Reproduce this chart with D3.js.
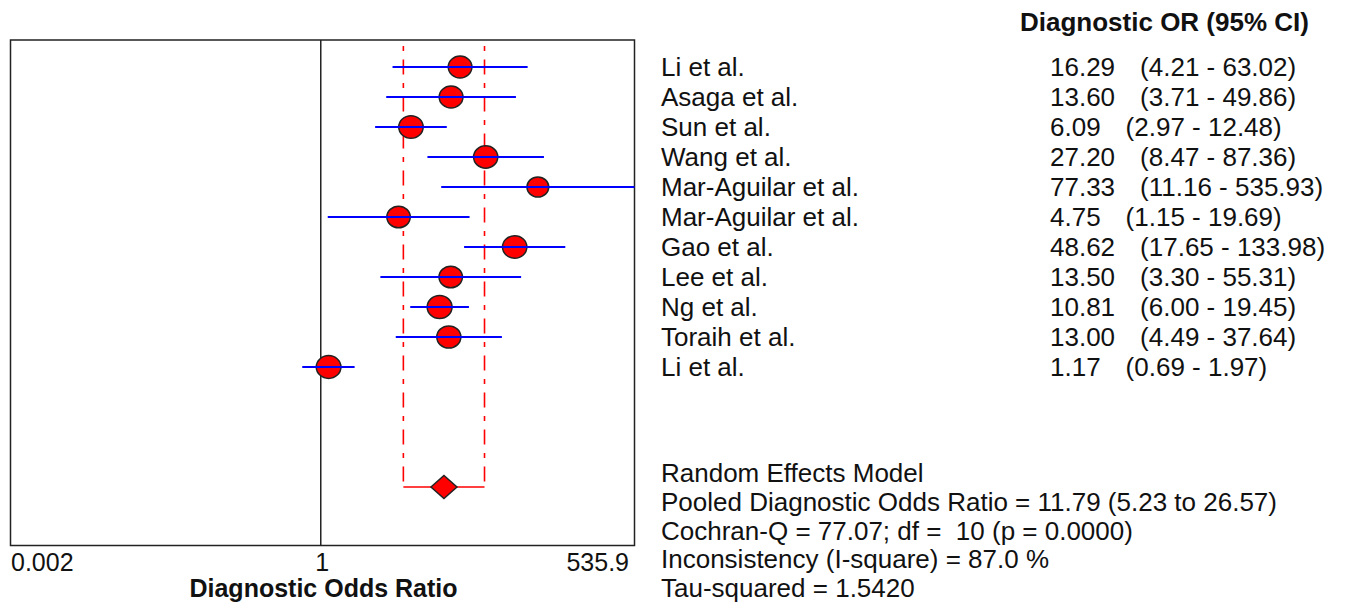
<!DOCTYPE html>
<html>
<head>
<meta charset="utf-8">
<script src="https://cdn.jsdelivr.net/npm/d3@7"></script>
<style>
  body { margin: 0; background: #fff; }
  text { font-family: "Liberation Sans", Arial, sans-serif; fill: #111; white-space: pre; }
</style>
</head>
<body>
<script>
var studies = ['Li et al.', 'Asaga et al.', 'Sun et al.', 'Wang et al.', 'Mar-Aguilar et al.',
  'Mar-Aguilar et al.', 'Gao et al.', 'Lee et al.', 'Ng et al.', 'Toraih et al.', 'Li et al.'];
var oddsRatios = [16.29, 13.60, 6.09, 27.20, 77.33, 4.75, 48.62, 13.50, 10.81, 13.00, 1.17];
var lowerCI = [4.21, 3.71, 2.97, 8.47, 11.16, 1.15, 17.65, 3.30, 6.00, 4.49, 0.69];
var upperCI = [63.02, 49.86, 12.48, 87.36, 535.93, 19.69, 133.98, 55.31, 19.45, 37.64, 1.97];
// relative weights
var weights = [9.0, 9.1, 9.6, 9.4, 7.6, 8.8, 9.5, 8.8, 10.0, 9.3, 9.8];
var pooled = { or: 11.79, lower: 5.23, upper: 26.57 };
var tickValues = [0.002, 1, 535.9];
var tickLabels = ['0.002', '1', '535.9'];
var summaryLines = [
  'Random Effects Model',
  'Pooled Diagnostic Odds Ratio = 11.79 (5.23 to 26.57)',
  'Cochran-Q = 77.07; df =  10 (p = 0.0000)',
  'Inconsistency (I-square) = 87.0 %',
  'Tau-squared = 1.5420'
];

var width = 1348,
  height = 608,
  plot = { left: 10.5, right: 634.5, top: 40, bottom: 545.5 },
  fontSize = 25,
  tableFont = 26,
  svg = d3.select('body').append('svg').attr('width', width).attr('height', height),
  x = d3.scaleLog().domain([tickValues[0], tickValues[2]]).range([plot.left, plot.right]).clamp(true),
  y = d3.scaleLinear().domain([0, 14]).range([67, 487]),
  r = d3.scaleSqrt().domain([0, 10]).range([0, 12]),
  pooledRow = 14,
  rows = studies.map(function(name, i) {
    return { name: name, or: oddsRatios[i], lo: lowerCI[i], hi: upperCI[i], w: weights[i], i: i };
  });

// plot frame and the line of no effect
svg.append('rect')
  .attr('x', plot.left).attr('y', plot.top)
  .attr('width', plot.right - plot.left).attr('height', plot.bottom - plot.top)
  .attr('fill', 'none').attr('stroke', '#222').attr('stroke-width', 1.5);

svg.append('line')
  .attr('x1', x(1)).attr('x2', x(1))
  .attr('y1', plot.top).attr('y2', plot.bottom)
  .attr('stroke', '#222').attr('stroke-width', 1.5);

// pooled CI bracket
[pooled.lower, pooled.upper].forEach(function(v) {
  svg.append('line')
    .attr('x1', x(v)).attr('x2', x(v))
    .attr('y1', 46).attr('y2', y(pooledRow))
    .attr('stroke', '#ff0000').attr('stroke-width', 1.6)
    .attr('stroke-dasharray', '5,8.5,15,8.5');
});
svg.append('line')
  .attr('x1', x(pooled.lower)).attr('x2', x(pooled.upper))
  .attr('y1', y(pooledRow)).attr('y2', y(pooledRow))
  .attr('stroke', '#ff0000').attr('stroke-width', 1.6);

// study CIs and point estimates
var studyG = svg.append('g');
studyG.selectAll('line.ci').data(rows).enter().append('line')
  .attr('class', 'ci')
  .attr('x1', function(d) { return x(d.lo); })
  .attr('x2', function(d) { return x(d.hi); })
  .attr('y1', function(d) { return y(d.i); })
  .attr('y2', function(d) { return y(d.i); })
  .attr('stroke', '#0000ff').attr('stroke-width', 2);

studyG.selectAll('ellipse').data(rows).enter().append('ellipse')
  .attr('cx', function(d) { return x(d.or); })
  .attr('cy', function(d) { return y(d.i); })
  .attr('rx', function(d) { return r(d.w) * 1.04; })
  .attr('ry', function(d) { return r(d.w) * 0.96; })
  .attr('fill', '#ff0000').attr('stroke', '#222').attr('stroke-width', 1.5);

// blue line sits over the marker
studyG.selectAll('line.ci').raise();

// pooled diamond
var px = x(pooled.or), py = y(pooledRow);
svg.append('path')
  .attr('d', 'M' + (px - 13) + ',' + py + 'L' + px + ',' + (py - 11.5) + 'L' + (px + 13) + ',' + py + 'L' + px + ',' + (py + 11.5) + 'Z')
  .attr('fill', '#ff0000').attr('stroke', '#222').attr('stroke-width', 1.5);

// x axis
var axisG = svg.append('g')
  .attr('transform', 'translate(0,' + plot.bottom + ')')
  .call(d3.axisBottom(x).tickValues(tickValues).tickSize(0)
    .tickFormat(function(d, i) { return tickLabels[i]; }));
axisG.select('.domain').remove();
axisG.selectAll('text')
  .attr('y', 25.5).attr('dy', 0)
  .style('font-size', fontSize + 'px')
  .style('font-family', '"Liberation Sans", Arial, sans-serif')
  .attr('fill', '#111')
  .attr('text-anchor', function(d, i) { return i === 0 ? 'start' : (i === 2 ? 'end' : 'middle'); })
  .attr('dx', function(d, i) { return i === 2 ? -6 : (i === 1 ? 1 : 0); });

svg.append('text')
  .attr('x', 323.5).attr('y', 597)
  .attr('text-anchor', 'middle')
  .style('font-size', fontSize + 'px').style('font-weight', 'bold')
  .text('Diagnostic Odds Ratio');

// right hand table
svg.append('text')
  .attr('x', 1020).attr('y', 31)
  .style('font-size', tableFont + 'px').style('font-weight', 'bold')
  .text('Diagnostic OR (95% CI)');

var rowG = svg.selectAll('g.row').data(rows).enter().append('g')
  .attr('class', 'row')
  .attr('transform', function(d) { return 'translate(0,' + (y(d.i) + 9) + ')'; });

rowG.append('text').attr('x', 661).style('font-size', tableFont + 'px')
  .text(function(d) { return d.name; });

rowG.append('text').attr('class', 'val').attr('x', 1050).style('font-size', tableFont + 'px')
  .text(function(d) { return d.or.toFixed(2); });

rowG.each(function(d) {
  var g = d3.select(this),
    valWidth = g.select('text.val').node().getComputedTextLength();
  g.append('text').attr('x', 1050 + valWidth + 25).style('font-size', tableFont + 'px')
    .text('(' + d.lo.toFixed(2) + ' - ' + d.hi.toFixed(2) + ')');
});

svg.selectAll('text.summary').data(summaryLines).enter().append('text')
  .attr('class', 'summary')
  .attr('x', 661)
  .attr('y', function(d, i) { return 482 + i * 28.8; })
  .style('font-size', tableFont + 'px')
  .text(function(d) { return d; });
</script>
</body>
</html>
